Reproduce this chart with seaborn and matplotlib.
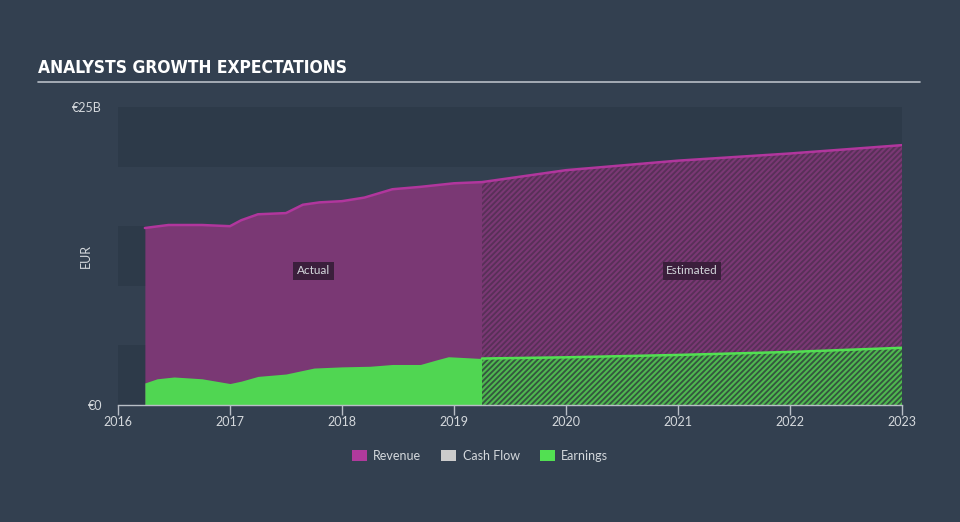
import matplotlib
matplotlib.use("Agg")
import matplotlib.pyplot as plt
from matplotlib.patches import Patch
from matplotlib import font_manager
import seaborn as sns
import pandas as pd

# ---- data (EUR billions) ----
rev_act_x = [2016.24, 2016.45, 2016.75, 2017.0, 2017.1, 2017.25, 2017.5, 2017.65, 2017.8,
             2018.0, 2018.2, 2018.45, 2018.7, 2019.0, 2019.25]
rev_act_y = [14.85, 15.1, 15.1, 15.0, 15.5, 16.0, 16.1, 16.8, 17.0,
             17.1, 17.4, 18.1, 18.3, 18.6, 18.7]
rev_est_x = [2019.25, 2020.0, 2021.0, 2022.0, 2023.0]
rev_est_y = [18.7, 19.7, 20.5, 21.1, 21.8]

earn_act_x = [2016.24, 2016.35, 2016.5, 2016.75, 2017.0, 2017.1, 2017.25, 2017.5, 2017.75,
              2018.0, 2018.25, 2018.45, 2018.7, 2018.85, 2018.95, 2019.25]
earn_act_y = [1.85, 2.2, 2.35, 2.2, 1.8, 2.0, 2.4, 2.6, 3.1,
              3.2, 3.25, 3.4, 3.4, 3.8, 4.05, 3.9]
earn_est_x = [2019.25, 2020.0, 2021.0, 2022.0, 2023.0]
earn_est_y = [3.9, 4.0, 4.2, 4.45, 4.8]

x_ticks = [2016, 2017, 2018, 2019, 2020, 2021, 2022, 2023]
y_ticks = [0, 25]
y_tick_labels = ["€0", "€25B"]
legend_labels = ["Revenue", "Cash Flow", "Earnings"]

# ---- colours ----
BG = "#334050"
BAND = "#2d3a49"
REV_FILL = "#7a3874"
REV_LINE = "#b1369d"
REV_EST_BG = "#583058"
EARN_FILL = "#50d652"
EARN_EST_BG = "#34563f"
TXT = "#d4d8dc"

sns.set_theme(style="dark")
plt.rcParams["font.family"] = ["Lato", "DejaVu Sans"]
plt.rcParams["hatch.linewidth"] = 1.5

# pick a narrow/condensed bold font for the title if one is installed
names = {f.name for f in font_manager.fontManager.ttflist}
cond = [f for f in font_manager.fontManager.ttflist
        if f.stretch in ("condensed", "semi-condensed", "extra-condensed", "ultra-condensed")
        or "Narrow" in f.name or "Condensed" in f.name]
title_kw = dict(family=["DejaVu Sans"], fontweight="bold", fontsize=11.5)
if "Liberation Sans Narrow" in names:
    title_kw = dict(family=["Liberation Sans Narrow", "DejaVu Sans"], fontweight="bold", fontsize=14)
elif any("DejaVu" in f.name for f in cond):
    title_kw = dict(family=["DejaVu Sans"], fontweight="bold", fontstretch="condensed", fontsize=12.5)
elif cond:
    title_kw = dict(family=[cond[0].name, "DejaVu Sans"], fontweight="bold",
                    fontstretch=cond[0].stretch, fontsize=13)

fig = plt.figure(figsize=(9.6, 5.22), dpi=100, facecolor=BG)
ax = fig.add_axes([118 / 960, 1 - 405 / 522, (902 - 118) / 960, (405 - 107) / 522])
ax.set_facecolor(BG)

# background bands
for lo in (0, 10, 20):
    ax.axhspan(lo, lo + 5, color=BAND, zorder=0, lw=0)

rev_act = pd.DataFrame({"year": rev_act_x, "value": rev_act_y})
rev_est = pd.DataFrame({"year": rev_est_x, "value": rev_est_y})
earn_act = pd.DataFrame({"year": earn_act_x, "value": earn_act_y})
earn_est = pd.DataFrame({"year": earn_est_x, "value": earn_est_y})

# actual areas
ax.fill_between(rev_act["year"], 0, rev_act["value"], color=REV_FILL, lw=0, zorder=1)
ax.fill_between(earn_act["year"], 0, earn_act["value"], color=EARN_FILL, lw=0, zorder=2)

# estimated hatched areas
ax.fill_between(rev_est["year"], 0, rev_est["value"], facecolor=REV_EST_BG,
                edgecolor=REV_FILL, hatch="//////", lw=0, zorder=1)
ax.fill_between(earn_est["year"], 0, earn_est["value"], facecolor=EARN_EST_BG,
                edgecolor="#4fb84f", hatch="//////", lw=0, zorder=2)

# lines
rev_all = pd.concat([rev_act, rev_est.iloc[1:]])
sns.lineplot(data=rev_all, x="year", y="value", color=REV_LINE, lw=1.8, ax=ax,
             zorder=3, sort=True, estimator=None)
sns.lineplot(data=earn_est, x="year", y="value", color="#52e052", lw=1.8, ax=ax,
             zorder=3, estimator=None)

mid_act = (rev_act_x[0] + rev_act_x[-1]) / 2
mid_est = (rev_est_x[0] + rev_est_x[-1]) / 2
box = dict(boxstyle="square,pad=0.3", fc="#3b1f3c", ec="none")
ax.text(mid_act, 11.25, "Actual", color=TXT, fontsize=8.5, ha="center", va="center", bbox=box, zorder=5)
ax.text(mid_est, 11.25, "Estimated", color=TXT, fontsize=8.5, ha="center", va="center", bbox=box, zorder=5)

ax.set_xlim(2016, 2023)
ax.set_ylim(0, 25)
ax.set_xticks(x_ticks)
ax.set_xticklabels([str(t) for t in x_ticks], color=TXT, fontsize=9)
ax.set_yticks(y_ticks)
ax.set_yticklabels(y_tick_labels, color=TXT, fontsize=9)
ax.tick_params(axis="x", length=7, width=1, color="#b8bec6", pad=1, direction="out", bottom=True)
ax.tick_params(axis="y", length=0, pad=11.5)
ax.set_xlabel("")
ax.set_ylabel("EUR", color=TXT, fontsize=9)
ax.yaxis.set_label_coords((92 - 118) / 784, 0.5)
for s in ("top", "right", "left"):
    ax.spines[s].set_visible(False)
ax.spines["bottom"].set_visible(True)
ax.spines["bottom"].set_color("#b8bec6")
ax.spines["bottom"].set_linewidth(1)
ax.grid(False)

# title and underline
fig.text(38 / 960, 1 - 68 / 522, "ANALYSTS GROWTH EXPECTATIONS", color="white",
         va="center", ha="left", **title_kw)
fig.add_artist(plt.Line2D([38 / 960, 920 / 960], [1 - 82 / 522] * 2, color="#b8bec6", lw=1.2))

handles = [Patch(facecolor="#b03a9c", edgecolor="none"),
           Patch(facecolor="#cccccc", edgecolor="none"),
           Patch(facecolor="#52e052", edgecolor="none")]
leg = fig.legend(handles, legend_labels, loc="center", bbox_to_anchor=(0.5, 1 - 456 / 522),
                 ncol=3, frameon=False, fontsize=9, handlelength=1.2, handleheight=1.0,
                 columnspacing=1.6, handletextpad=0.5)
for t in leg.get_texts():
    t.set_color(TXT)

fig.savefig("out.png", dpi=100, facecolor=BG)
